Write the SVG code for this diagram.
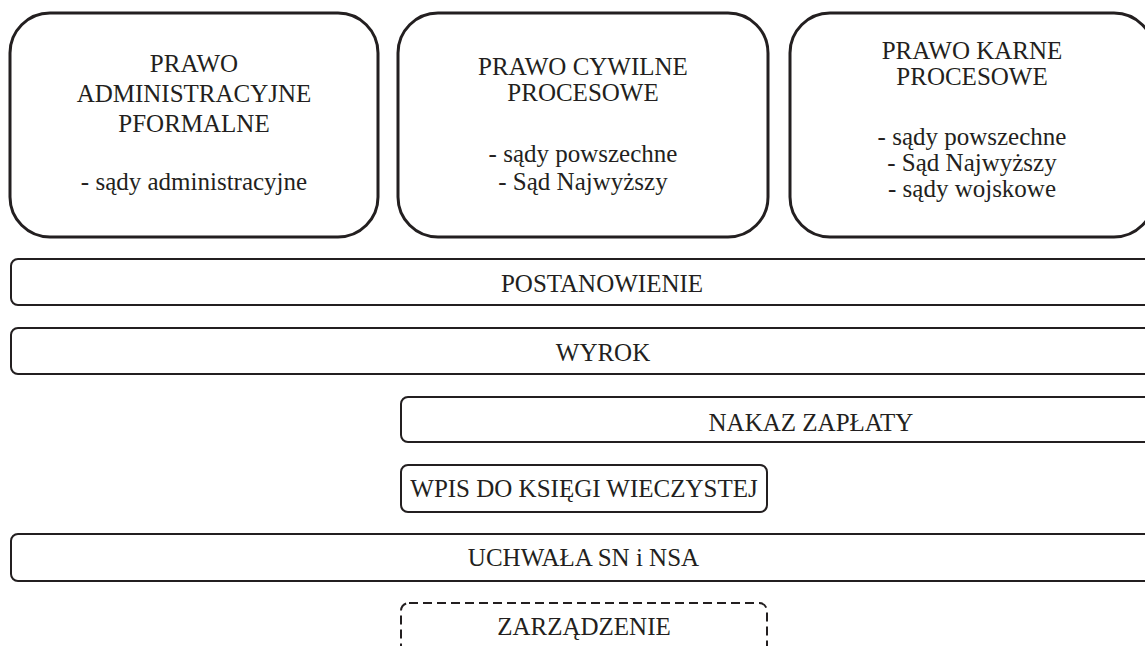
<svg xmlns="http://www.w3.org/2000/svg" width="1145" height="646" viewBox="0 0 1145 646">
<style>
.big{fill:#fff;stroke:#231f20;stroke-width:3}
.bar{fill:#fff;stroke:#231f20;stroke-width:2}
.dash{fill:#fff;stroke:#231f20;stroke-width:2;stroke-dasharray:9 5}
text{font-family:"Liberation Serif","Times New Roman",serif;font-size:25px;fill:#231f20;text-anchor:middle}
</style>
<rect width="1145" height="646" fill="#fff"/>
<g id="node-admin">
<rect class="big" x="10" y="13" width="368" height="224" rx="40" ry="40"/>
<text x="194" y="72">PRAWO</text>
<text x="194" y="102">ADMINISTRACYJNE</text>
<text x="194" y="131.5">PFORMALNE</text>
<text x="194" y="190">- sądy administracyjne</text>
</g>
<g id="node-cywilne">
<rect class="big" x="398" y="13" width="370" height="224" rx="40" ry="40"/>
<text x="583" y="74.5">PRAWO CYWILNE</text>
<text x="583" y="100.5">PROCESOWE</text>
<text x="583" y="162">- sądy powszechne</text>
<text x="583" y="190">- Sąd Najwyższy</text>
</g>
<g id="node-karne">
<rect class="big" x="790" y="13" width="364" height="224" rx="40" ry="40"/>
<text x="972" y="58.5">PRAWO KARNE</text>
<text x="972" y="85">PROCESOWE</text>
<text x="972" y="144.5">- sądy powszechne</text>
<text x="972" y="171">- Sąd Najwyższy</text>
<text x="972" y="197">- sądy wojskowe</text>
</g>
<g id="node-postanowienie">
<rect class="bar" x="11" y="259" width="1180" height="46" rx="7" ry="7"/>
<text x="602" y="291.5">POSTANOWIENIE</text>
</g>
<g id="node-wyrok">
<rect class="bar" x="11" y="328" width="1180" height="46" rx="7" ry="7"/>
<text x="603" y="361">WYROK</text>
</g>
<g id="node-nakaz">
<rect class="bar" x="401" y="397" width="820" height="45" rx="7" ry="7"/>
<text x="811" y="431">NAKAZ ZAPŁATY</text>
</g>
<g id="node-wpis">
<rect class="bar" x="401" y="465" width="366" height="47" rx="7" ry="7"/>
<text x="584" y="496.5">WPIS DO KSIĘGI WIECZYSTEJ</text>
</g>
<g id="node-uchwala">
<rect class="bar" x="11" y="534" width="1180" height="47" rx="7" ry="7"/>
<text x="583.5" y="566">UCHWAŁA SN i NSA</text>
</g>
<g id="node-zarzadzenie">
<rect class="dash" x="401" y="603" width="366" height="60" rx="8" ry="8"/>
<text x="584" y="635">ZARZĄDZENIE</text>
</g>
<g id="connectors"></g>
</svg>
